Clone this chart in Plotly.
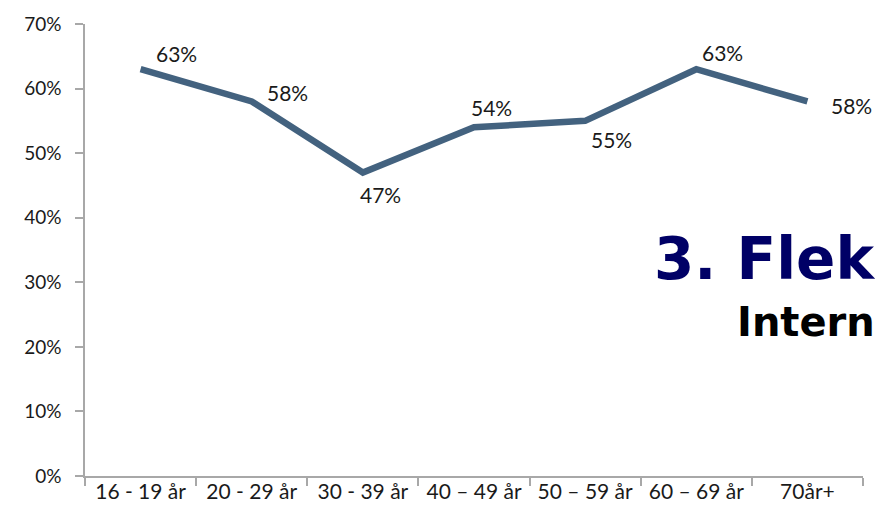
import plotly.graph_objects as go

categories = ["16 - 19 år", "20 - 29 år", "30 - 39 år", "40 – 49 år", "50 – 59 år", "60 – 69 år", "70år+"]
values = [63, 58, 47, 54, 55, 63, 58]
y_ticks = [0, 10, 20, 30, 40, 50, 60, 70]
y_tick_labels = ["0%", "10%", "20%", "30%", "40%", "50%", "60%", "70%"]

# label offsets in pixels (style only)
label_dx = [36, 36, 18, 17, 26, 26, 44]
label_dy = [16, 9, -22, 20, -19, 17, -4]

font_family = "Lato, 'Open Sans', sans-serif"

fig = go.Figure()
fig.add_trace(go.Scatter(
    x=categories, y=values, mode="lines",
    line=dict(color="#43627f", width=6.5),
    cliponaxis=False, hoverinfo="skip", showlegend=False,
))

for cat, v, dx, dy in zip(categories, values, label_dx, label_dy):
    fig.add_annotation(x=cat, y=v, text=f"{v}%", showarrow=False,
                       xshift=dx, yshift=dy, xanchor="center", yanchor="middle",
                       font=dict(family=font_family, size=21, color="#1a1a1a"))

fig.add_annotation(text="<b>3. Flek</b>", xref="paper", yref="paper",
                   x=0.7288, y=0.481, xanchor="left", yanchor="middle", showarrow=False,
                   font=dict(family="DejaVu Sans", size=58, color="#000066"))
fig.add_annotation(text="<b>Intern</b>", xref="paper", yref="paper",
                   x=0.8355, y=0.341, xanchor="left", yanchor="middle", showarrow=False,
                   font=dict(family="DejaVu Sans", size=40, color="#000000"))

fig.update_layout(
    width=875, height=530,
    margin=dict(l=85, r=12, t=14, b=54),
    paper_bgcolor="white", plot_bgcolor="white",
    font=dict(family=font_family, size=19, color="#1a1a1a"),
)
fig.update_xaxes(
    type="category", range=[-0.5, len(categories) - 0.5],
    showline=True, linecolor="#a8a8a8", linewidth=1.5,
    ticks="outside", tickson="boundaries", ticklen=8, tickcolor="#a8a8a8", tickwidth=1.5,
    ticklabelstandoff=-4,
    showgrid=False, zeroline=False, tickfont=dict(size=21),
)
fig.update_yaxes(
    range=[0, 70], tickvals=y_ticks, ticktext=y_tick_labels,
    showline=True, linecolor="#a8a8a8", linewidth=1.5,
    ticks="outside", ticklen=8, tickcolor="#a8a8a8", tickwidth=1.5, ticklabelstandoff=10,
    showgrid=False, zeroline=False, tickfont=dict(size=19),
)

fig.write_html("out.html", config={"displayModeBar": False},
               post_script="document.body.style.margin='0';")
